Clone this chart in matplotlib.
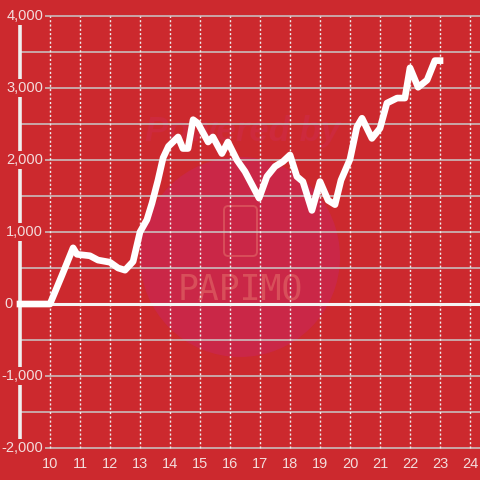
import matplotlib
matplotlib.use("Agg")
import matplotlib.pyplot as plt
from matplotlib.patches import Circle, FancyBboxPatch

# ---- data ----
hours = [9, 10, 10.4, 10.77, 10.9, 11.33, 11.6, 12.0, 12.27, 12.5, 12.77, 13.0,
         13.23, 13.4, 13.6, 13.77, 13.95, 14.27, 14.43, 14.6, 14.77, 14.93,
         15.27, 15.43, 15.73, 15.93, 16.23, 16.5, 16.97, 17.23, 17.5, 17.77,
         18.0, 18.23, 18.43, 18.73, 19.0, 19.27, 19.5, 19.7, 20.0, 20.23, 20.4,
         20.73, 21.0, 21.23, 21.57, 21.83, 22.0, 22.27, 22.57, 22.83, 23.0]
values = [0, 0, 400, 780, 690, 670, 610, 580, 500, 470, 590, 1000,
          1170, 1400, 1720, 2030, 2190, 2320, 2160, 2160, 2560, 2510,
          2250, 2320, 2090, 2250, 2000, 1840, 1470, 1770, 1910, 1980,
          2070, 1770, 1700, 1300, 1700, 1440, 1380, 1720, 2010, 2460, 2580,
          2300, 2440, 2790, 2860, 2860, 3280, 3010, 3110, 3380, 3380]
x_ticks = list(range(10, 25))
y_ticks = [-2000, -1000, 0, 1000, 2000, 3000, 4000]
y_grid = [v for v in range(-2000, 4001, 500)]

BG = "#cc292e"
LABEL = "#f3dcdc"

fig = plt.figure(figsize=(4.8, 4.8), dpi=100, facecolor=BG)
ax = fig.add_axes([0, 0, 1, 1])
ax.set_facecolor(BG)
ax.set_xlim(8.3333, 24.3333)
ax.set_ylim(-2444, 4222)
ax.axis("off")

# watermark (figure-pixel placement)
T = fig.transFigure
ax.add_patch(Circle((240 / 480, 1 - 257 / 480), 100 / 480, transform=T,
                    facecolor="#ca2747", edgecolor="none", zorder=0.5))
ax.text(243 / 480, 1 - 131 / 480, "Powered by", transform=T, ha="center", va="center",
        fontsize=25, fontweight="bold", style="italic", color="#cd2a3d", zorder=0.6,
        family="Liberation Sans")
ax.add_patch(FancyBboxPatch((224 / 480, 1 - 256 / 480), 33 / 480, 50 / 480,
                            boxstyle="round,pad=0,rounding_size=0.009",
                            transform=T, facecolor="none",
                            edgecolor="#d84f5a", lw=1.4, zorder=0.6))
ax.text(240 / 480, 1 - 289 / 480, "PAPIMO", transform=T, ha="center", va="center",
        fontsize=25, color="#d84f5a", zorder=0.6, family="DejaVu Sans Mono")

# grid
ax.hlines(y_grid, 9, 24.3333, colors="#c9c9c9", lw=1.1, zorder=1)
ax.vlines(x_ticks, -2000, 4000, colors="#eeeeee", lw=1.0, linestyles=(0, (1.5, 1.6)), zorder=1)
ax.hlines(0, 9, 24.3333, colors="#f4f4f4", lw=2.2, zorder=2)
ax.vlines(9, -2000, 4000, colors="#f0f0f0", lw=2.6, zorder=2)

# series
ax.plot(hours, values, color="white", lw=4.8, solid_joinstyle="round", solid_capstyle="projecting", zorder=3)

# labels
for v in y_ticks:
    if v == 0:
        ax.text(8.77, v, "0", ha="right", va="center", fontsize=10.5, color=LABEL,
                family="Liberation Sans", zorder=4)
        continue
    ax.text(9.77, v, f"{v:,}", ha="right", va="center", fontsize=10.5, color=LABEL,
            family="Liberation Sans", zorder=4,
            bbox=dict(facecolor=BG, edgecolor="none", pad=1.2))
for t in x_ticks:
    ax.text(t, -2220, str(t), ha="center", va="center", fontsize=10.5, color=LABEL,
            family="Liberation Sans", zorder=4)

fig.savefig("out.png", dpi=100, facecolor=BG)
